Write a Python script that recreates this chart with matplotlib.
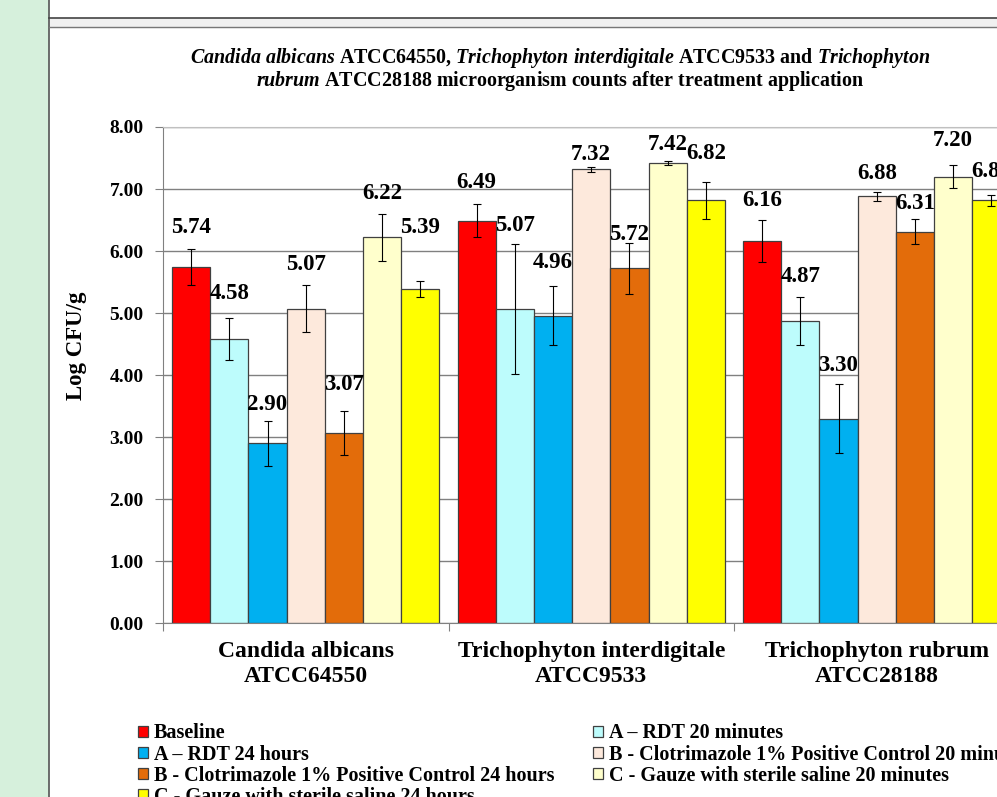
import numpy as np
import matplotlib
matplotlib.use("Agg")
import matplotlib.pyplot as plt
from matplotlib.patches import Rectangle
from matplotlib.lines import Line2D

plt.rcParams['font.family'] = ['Liberation Serif', 'DejaVu Serif']
plt.rcParams['font.weight'] = 'bold'
plt.rcParams['mathtext.fontset'] = 'custom'
plt.rcParams['mathtext.rm'] = 'Liberation Serif:bold'
plt.rcParams['mathtext.it'] = 'Liberation Serif:italic:bold'

# data
categories = ["Candida albicans\nATCC64550", "Trichophyton interdigitale\nATCC9533",
              "Trichophyton rubrum\nATCC28188"]
series_names = ["Baseline", "A \u2013 RDT 20 minutes", "A \u2013 RDT 24 hours",
                "B - Clotrimazole 1% Positive Control 20 minutes",
                "B - Clotrimazole 1% Positive Control 24 hours",
                "C - Gauze with sterile saline 20 minutes",
                "C - Gauze with sterile saline 24 hours"]
colors = ["#FF0000", "#BDFCFC", "#00B0F0", "#FDE9DC", "#E36C0A", "#FFFFCC", "#FFFF00"]

baseline = [5.74, 6.49, 6.16]
a_20 = [4.58, 5.07, 4.87]
a_24 = [2.90, 4.96, 3.30]
b_20 = [5.07, 7.32, 6.88]
b_24 = [3.07, 5.72, 6.31]
c_20 = [6.22, 7.42, 7.20]
c_24 = [5.39, 6.82, 6.82]

baseline_err = [0.29, 0.27, 0.34]
a_20_err = [0.34, 1.05, 0.39]
a_24_err = [0.36, 0.48, 0.55]
b_20_err = [0.38, 0.04, 0.08]
b_24_err = [0.36, 0.41, 0.20]
c_20_err = [0.38, 0.04, 0.18]
c_24_err = [0.13, 0.30, 0.09]

values = [baseline, a_20, a_24, b_20, b_24, c_20, c_24]
errors = [baseline_err, a_20_err, a_24_err, b_20_err, b_24_err, c_20_err, c_24_err]

# where the value labels sit (label centre, in axis units)
label_y = [[6.38, 7.10, 6.82],
           [5.31, 6.42, 5.59],
           [3.52, 5.81, 4.16],
           [5.79, 7.56, 7.25],
           [3.85, 6.26, 6.76],
           [6.93, 7.71, 7.79],
           [6.38, 7.58, 7.28]]

W, H = 997, 797
fig = plt.figure(figsize=(W / 100, H / 100), dpi=100)
fig.patch.set_facecolor("white")

# page furniture around the chart
fig.add_artist(Rectangle((0, 0), 48 / W, 1, transform=fig.transFigure, color="#D6F0DC", zorder=0))
fig.add_artist(Rectangle((49 / W, 1 - 27 / H), 1, 9 / H, transform=fig.transFigure,
                         color="#F0F0F0", zorder=0))
fig.add_artist(Line2D([49 / W, 49 / W], [0, 1], transform=fig.transFigure, color="#555555", lw=1.2))
fig.add_artist(Line2D([49 / W, 1], [1 - 18 / H, 1 - 18 / H], transform=fig.transFigure,
                      color="#444444", lw=1.2))
fig.add_artist(Line2D([49 / W, 1], [1 - 27 / H, 1 - 27 / H], transform=fig.transFigure,
                      color="#777777", lw=1.0))

ax = fig.add_axes([163 / W, 1 - 623.3 / H, 856.5 / W, 496.3 / H])
ax.set_facecolor("none")

x = np.arange(len(categories))
bw = 0.1338
for i, (vals, errs, col, name) in enumerate(zip(values, errors, colors, series_names)):
    pos = x + (i - 3) * bw
    ax.bar(pos, vals, bw, color=col, edgecolor="#404040", linewidth=0.9, label=name, zorder=2)
    ax.errorbar(pos, vals, yerr=errs, fmt="none", ecolor="black", elinewidth=0.8,
                capsize=3, capthick=0.8, zorder=3)
    for j in range(len(categories)):
        ax.text(pos[j], label_y[i][j], f"{vals[j]:.2f}", ha="center", va="center",
                fontsize=16.5, fontweight="bold", zorder=4)

ax.set_ylim(0, 8)
ax.set_xlim(-0.5, 2.5)
ax.set_yticks(np.arange(0, 9, 1))
ax.set_yticklabels([f"{v:.2f}" for v in np.arange(0, 9, 1)], fontsize=14, fontweight="bold")
ax.yaxis.grid(True, color="#808080", linewidth=1.0, zorder=1)
ax.set_axisbelow(True)

ax.set_xticks([-0.5, 0.5, 1.5, 2.5])
ax.set_xticklabels([])
ax.set_xticks(x, minor=True)
ax.set_xticklabels(categories, minor=True, fontsize=17, fontweight="bold", linespacing=1.2)
ax.tick_params(axis="x", which="major", length=6, color="#808080", direction="out")
ax.tick_params(axis="x", which="minor", length=0, pad=13)
ax.tick_params(axis="y", length=6, color="#808080", direction="out", pad=8)

ax.spines["right"].set_visible(False)
ax.spines["top"].set_color("#C0C0C0")
ax.spines["left"].set_color("#808080")
ax.spines["bottom"].set_color("#808080")

ax.set_ylabel("Log CFU/g", fontsize=16.5, fontweight="bold")
ax.yaxis.set_label_coords(-0.0887, 0.56)

# title with italic species names
line1 = (r"$\mathit{Candida\ albicans}$ ATCC64550, $\mathit{Trichophyton\ interdigitale}$"
         r" ATCC9533 and $\mathit{Trichophyton}$")
line2 = r"$\mathit{rubrum}$ ATCC28188 microorganism counts after treatment application"
fig.text(560 / W, 1 - 57.5 / H, line1, ha="center", va="center", fontsize=14.4, fontweight="bold")
fig.text(560 / W, 1 - 81 / H, line2, ha="center", va="center", fontsize=14.4, fontweight="bold")

# legend, filled row by row like the original
handles, labels = ax.get_legend_handles_labels()
order = [0, 2, 4, 6, 1, 3, 5]
leg = fig.legend([handles[k] for k in order], [labels[k] for k in order], ncol=2,
                 loc="upper left", bbox_to_anchor=(138 / W, 1 - 723.5 / H), frameon=False,
                 prop={"size": 14.5, "weight": "bold"}, handlelength=0.5, handleheight=0.5,
                 handletextpad=0.3, columnspacing=1.9, labelspacing=0.05, borderpad=0,
                 borderaxespad=0)

fig.savefig("out.png", dpi=100)
